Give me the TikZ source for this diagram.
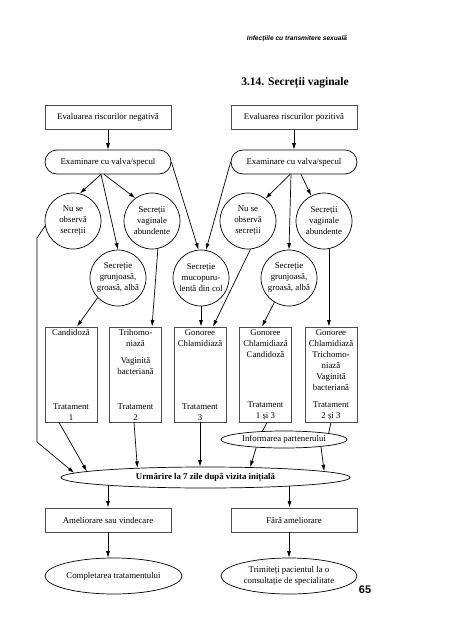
\documentclass[tikz,border=0pt]{standalone}
\usepackage{fontspec}
\setmainfont{Liberation Serif}
\newfontfamily\headfont{Liberation Sans}
\usetikzlibrary{positioning,shapes.geometric,arrows.meta,calc}

\begin{document}
\begin{tikzpicture}[x=1pt,y=-1pt,
	font=\fontsize{8.8}{11}\selectfont,
	box/.style={draw=black!70,line width=0.9pt,minimum width=126pt,minimum height=24pt,inner sep=0pt},
	exam/.style={draw,line width=0.7pt,minimum width=126pt,minimum height=24pt,inner sep=0pt,rounded corners=12pt},
	circ/.style={draw,circle,line width=0.7pt,minimum size=56pt,inner sep=-2pt,align=center},
	tall/.style={draw=black!70,line width=0.9pt,minimum width=52pt,minimum height=95pt,inner sep=0pt},
	txt/.style={inner sep=0pt,align=center},
	oval/.style={draw,ellipse,line width=0.7pt,inner sep=0pt,align=center},
	arr/.style={-{Latex[length=6.5pt,width=4pt]},line width=0.7pt},
	link/.style={line width=0.7pt}]

	\useasboundingbox (0,0) rectangle (458,640);

	\node[font=\headfont\fontsize{6.6}{8}\selectfont\bfseries\itshape] (hdr) at (297,39) {Infecțiile cu transmitere sexuală};
	\node[font=\fontsize{11.5}{13}\selectfont\bfseries] (ttl) at (295,83) {3.14. Secreții vaginale};
	\node[font=\headfont\fontsize{11}{13}\selectfont\bfseries] (pg) at (365,590) {65};

	\node[box] (evN) at (108,117.5) {Evaluarea riscurilor negativă};
	\node[box] (evP) at (294,117.5) {Evaluarea riscurilor pozitivă};
	\node[exam] (exN) at (108,162) {Examinare cu valva/specul};
	\node[exam] (exP) at (294,162) {Examinare cu valva/specul};

	\node[circ] (nuN) at (73,221) {Nu se\\observă\\secreții};
	\node[circ] (abN) at (152,221) {Secreții\\vaginale\\abundente};
	\node[circ] (grN) at (118,278) {Secreție\\grunjoasă,\\groasă, albă};
	\node[circ] (muc) at (201,278) {Secreție\\mucopuru-\\lentă din col};
	\node[circ] (nuP) at (248,221) {Nu se\\observă\\secreții};
	\node[circ] (grP) at (289,278) {Secreție\\grunjoasă,\\groasă, albă};
	\node[circ] (abP) at (324,221) {Secreții\\vaginale\\abundente};

	\node[tall] (d1) at (71,374.5) {};
	\node[tall] (d2) at (135.5,374.5) {};
	\node[tall] (d3) at (200,374.5) {};
	\node[tall] (d4) at (265.5,374.5) {};
	\node[tall] (d5) at (331,374.5) {};

	\node[txt,below=2.5pt of d1.north] (d1a) {Candidoză};
	\node[txt,below=2.5pt of d2.north] (d2a) {Trihomo-\\niază\\[6pt]Vaginită\\bacteriană};
	\node[txt,below=2.5pt of d3.north] (d3a) {Gonoree\\Chlamidiază};
	\node[txt,below=2.5pt of d4.north] (d4a) {Gonoree\\Chlamidiază\\Candidoză};
	\node[txt,below=2.5pt of d5.north] (d5a) {Gonoree\\Chlamidiază\\Trichomo-\\niază\\Vaginită\\bacteriană};

	\node[txt,above=2pt of d1.south] (d1b) {Tratament\\1};
	\node[txt,above=2pt of d2.south] (d2b) {Tratament\\2};
	\node[txt,above=2pt of d3.south] (d3b) {Tratament\\3};
	\node[txt,above=2pt of d4.south] (d4b) {Tratament\\1 și 3};
	\node[txt,above=2pt of d5.south] (d5b) {Tratament\\2 și 3};

	\node[oval,minimum width=126pt,minimum height=17pt] (inf) at (284,439.5) {Informarea partenerului};
	\node[oval,minimum width=289pt,minimum height=21pt,font=\fontsize{8.8}{11}\selectfont\bfseries] (urm) at (205.5,477.5) {Urmărire la 7 zile după vizita inițială};

	\node[box] (amel) at (108,520) {Ameliorare sau vindecare};
	\node[box] (fara) at (294,520) {Fără ameliorare};
	\node[oval,minimum width=137pt,minimum height=36pt] (compl) at (113.5,576) {Completarea tratamentului};
	\node[oval,minimum width=136pt,minimum height=36pt] (trim) at (289,576) {Trimiteți pacientul la o\\consultație de specialitate};

	\coordinate (eN) at ([xshift=-7pt]exN.south);
	\coordinate (eP) at ([xshift=-3pt]exP.south);
	\coordinate (k1) at (37,238);
	\coordinate (k2) at (37,442);

	\draw[arr] (evN) -- (exN);
	\draw[arr] (evP) -- (exP);
	\draw[arr] (eN) -- (nuN.76);
	\draw[arr] (eN) -- (grN.north);
	\draw[arr] ([xshift=-4pt]exN.south) -- (abN.126);
	\draw[arr] (exN.east) -- (muc.95);
	\draw[arr] (exP.west) -- (muc.80);
	\draw[arr] ([xshift=-4pt]exP.south) -- (nuP.52);
	\draw[arr] (eP) -- (grP.north);
	\draw[arr] ([xshift=7pt]exP.south) -- (abP.117);

	\draw[arr] (nuN.190) -- (k1) -- (k2) -- (urm.178.5);
	\draw[arr] (grN.224) -- ([xshift=6pt]d1.north);
	\draw[arr] (abN.282) -- ([xshift=16.5pt]d2.north);
	\draw[arr] (muc.south) -- (muc.south |- d3.north);
	\draw[arr] (nuP.275) -- ([xshift=13pt]d3.north);
	\draw[arr] (grP.239) -- ([xshift=-3.5pt]d4.north);
	\draw[arr] (abP.280) -- (abP.280 |- d5.north);

	\draw[arr] ([xshift=-12pt]d1.south) -- (urm.177.5);
	\draw[arr] ([xshift=-1.5pt]d2.south) -- (urm.172);
	\draw[arr] (d3.south) -- (d3.south |- urm.north);
	\draw[link] ([xshift=1.5pt]d4.south) -- (inf.159);
	\draw[link] (d5.south) -- (inf.8);
	\draw[arr] (inf.196) -- (urm.13);
	\draw[arr] (inf.349) -- (urm.3.6);

	\draw[arr] (urm.184 -| amel.north) -- (amel.north);
	\draw[arr] (urm.354) -- (urm.354 |- fara.north);
	\draw[arr] (amel.south) -- (amel.south |- compl.north);
	\draw[arr] (trim.north |- fara.south) -- (trim.north);
\end{tikzpicture}
\end{document}
